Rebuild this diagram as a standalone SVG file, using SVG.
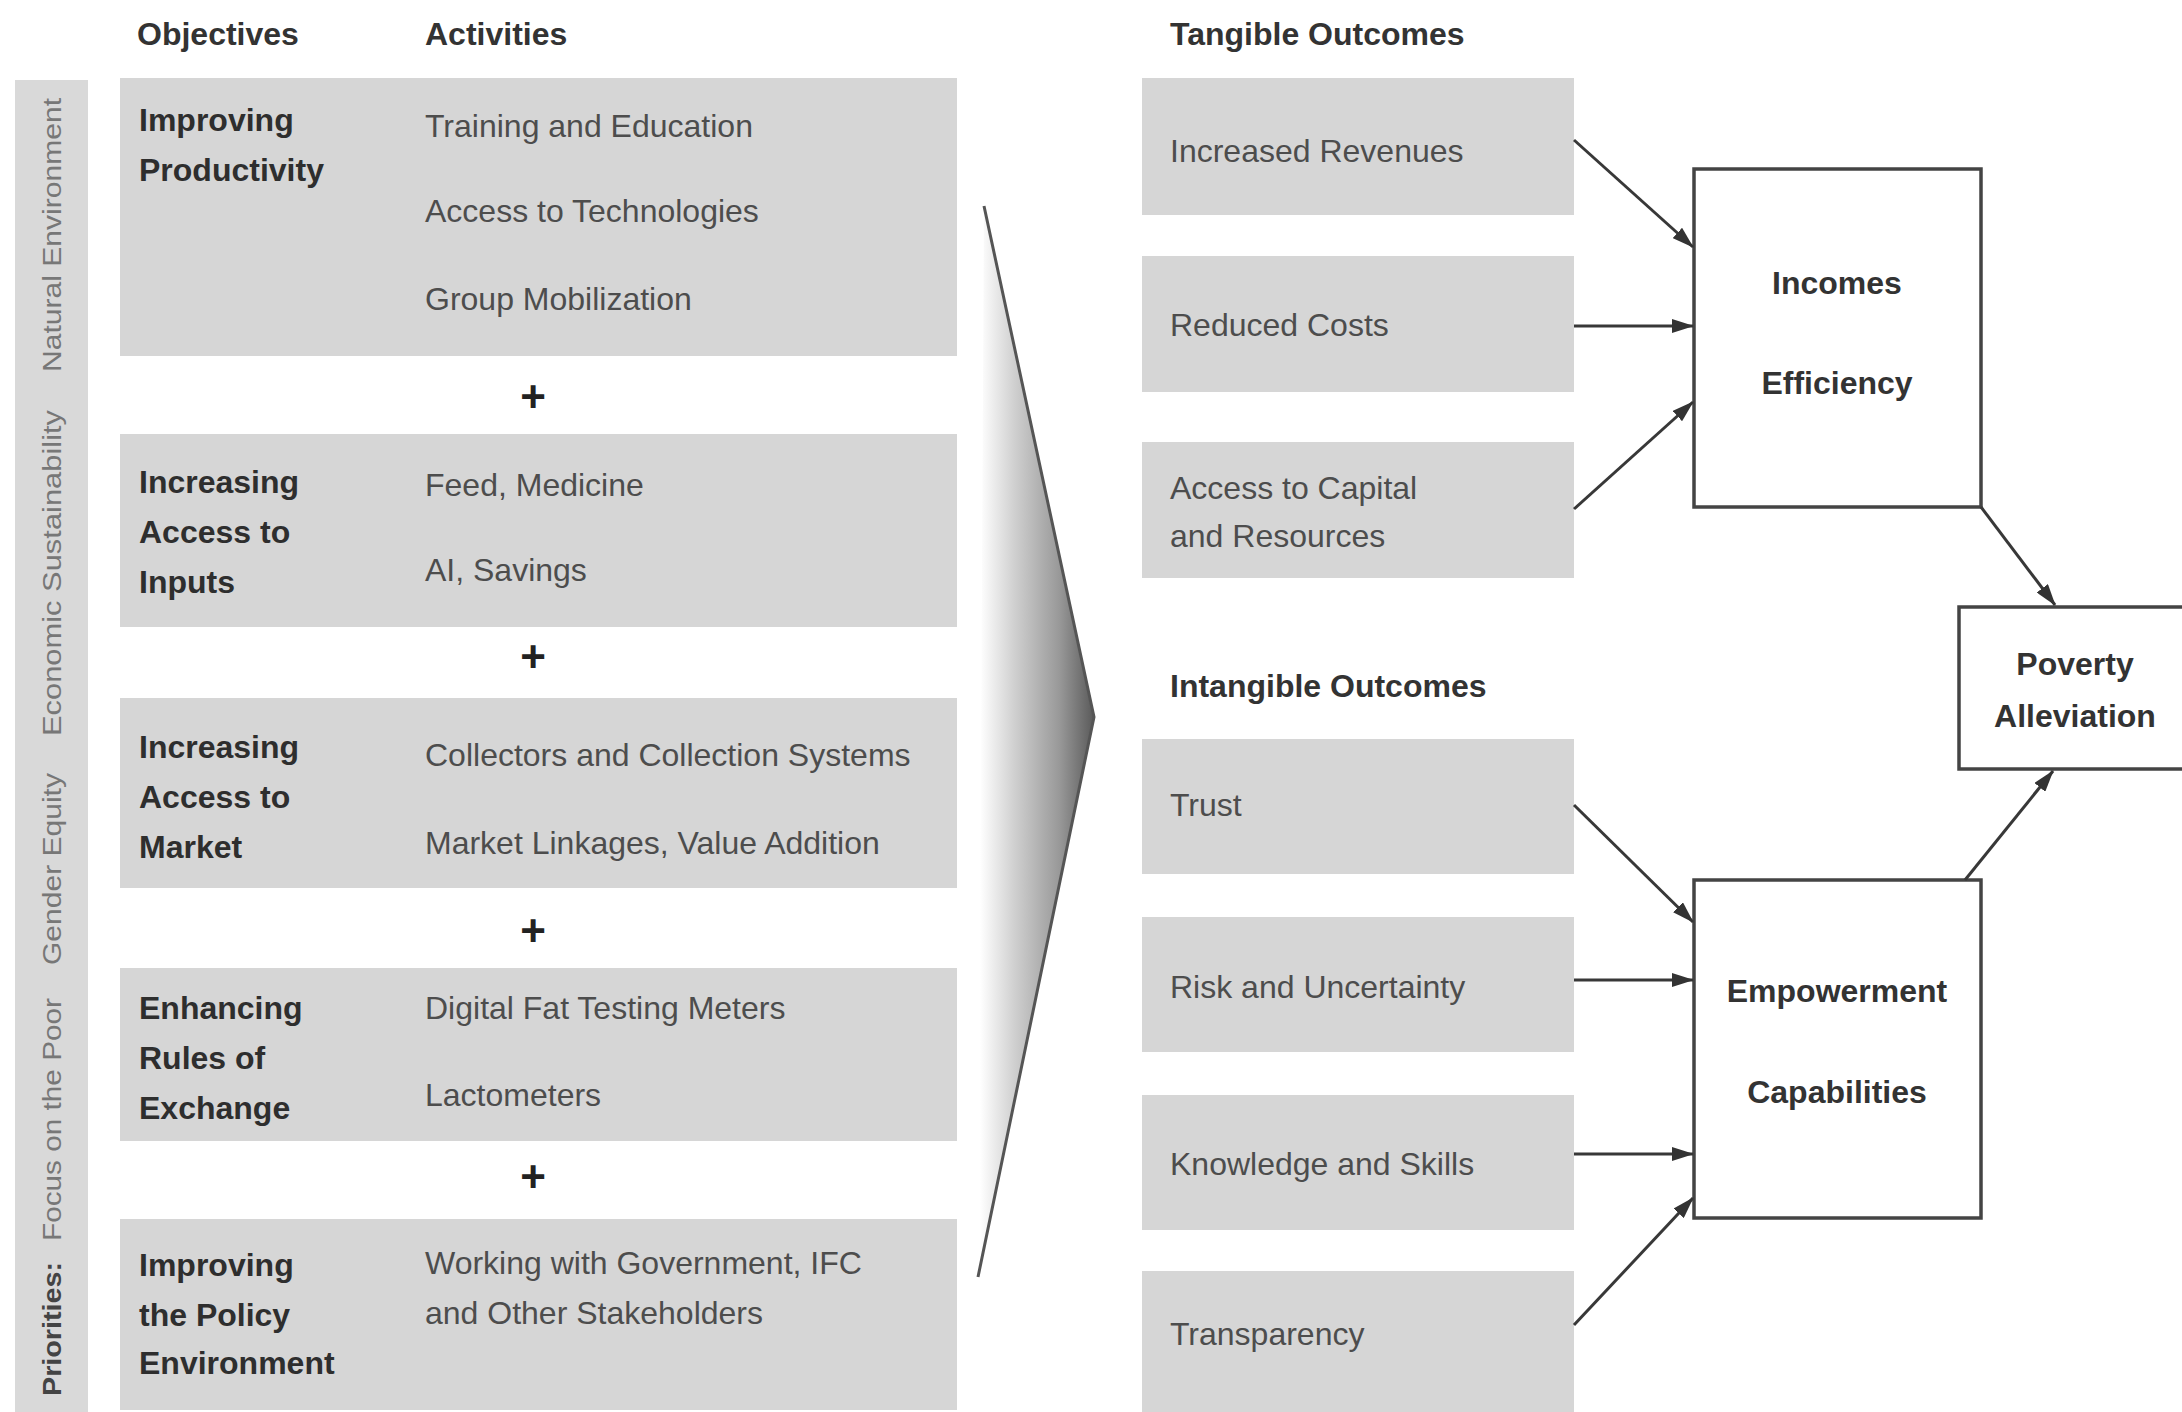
<svg xmlns="http://www.w3.org/2000/svg" width="2182" height="1412" viewBox="0 0 2182 1412">
<style>
text{font-family:"Liberation Sans",Arial,sans-serif;}
.hd{font-size:32px;font-weight:bold;fill:#333;}
.obj{font-size:32px;font-weight:bold;fill:#2e2e2e;}
.act{font-size:32px;fill:#4d4d4d;}
.box{fill:#d6d6d6;}
.wbox{fill:#fff;stroke:#444;stroke-width:3.5;}
.ctr{font-size:32px;font-weight:bold;fill:#333;text-anchor:middle;}
.plus{font-size:44px;font-weight:bold;fill:#222;text-anchor:middle;}
.vt{font-size:25px;fill:#777;}
.vtb{font-size:25px;fill:#444;font-weight:bold;}
.con{stroke:#383838;stroke-width:3;fill:none;marker-end:url(#arr);}
</style>
<defs>
<marker id="arr" markerWidth="22" markerHeight="14" refX="21" refY="7" orient="auto" markerUnits="userSpaceOnUse">
<path d="M0,0 L22,7 L0,14 z" fill="#333"/>
</marker>
<linearGradient id="chev" gradientUnits="userSpaceOnUse" x1="980" y1="0" x2="1094" y2="0">
<stop offset="0" stop-color="#ffffff"/>
<stop offset="0.3" stop-color="#d0d0d0"/>
<stop offset="0.7" stop-color="#989898"/>
<stop offset="1" stop-color="#5a5a5a"/>
</linearGradient>
</defs>
<rect width="2182" height="1412" fill="#fff"/>

<g id="priorities">
<rect x="15" y="80" width="73" height="1332" fill="#d9d9d9"/>
<text class="vtb" transform="translate(61,1396) rotate(-90)" textLength="134" lengthAdjust="spacingAndGlyphs">Priorities:</text>
<text class="vt" transform="translate(61,1241) rotate(-90)" textLength="243" lengthAdjust="spacingAndGlyphs">Focus on the Poor</text>
<text class="vt" transform="translate(61,965) rotate(-90)" textLength="192" lengthAdjust="spacingAndGlyphs">Gender Equity</text>
<text class="vt" transform="translate(61,736) rotate(-90)" textLength="326" lengthAdjust="spacingAndGlyphs">Economic Sustainability</text>
<text class="vt" transform="translate(61,372) rotate(-90)" textLength="274" lengthAdjust="spacingAndGlyphs">Natural Environment</text>
</g>

<g id="headers">
<text class="hd" x="137" y="45">Objectives</text>
<text class="hd" x="425" y="45">Activities</text>
<text class="hd" x="1170" y="45">Tangible Outcomes</text>
<text class="hd" x="1170" y="697">Intangible Outcomes</text>
</g>

<g id="obj1">
<rect class="box" x="120" y="78" width="837" height="278"/>
<text class="obj" x="139" y="131">Improving</text>
<text class="obj" x="139" y="181">Productivity</text>
<text class="act" x="425" y="137">Training and Education</text>
<text class="act" x="425" y="222">Access to Technologies</text>
<text class="act" x="425" y="310">Group Mobilization</text>
</g>
<text class="plus" x="533" y="412">+</text>
<g id="obj2">
<rect class="box" x="120" y="434" width="837" height="193"/>
<text class="obj" x="139" y="493">Increasing</text>
<text class="obj" x="139" y="543">Access to</text>
<text class="obj" x="139" y="593">Inputs</text>
<text class="act" x="425" y="496">Feed, Medicine</text>
<text class="act" x="425" y="581">AI, Savings</text>
</g>
<text class="plus" x="533" y="672">+</text>
<g id="obj3">
<rect class="box" x="120" y="698" width="837" height="190"/>
<text class="obj" x="139" y="758">Increasing</text>
<text class="obj" x="139" y="808">Access to</text>
<text class="obj" x="139" y="858">Market</text>
<text class="act" x="425" y="766">Collectors and Collection Systems</text>
<text class="act" x="425" y="854">Market Linkages, Value Addition</text>
</g>
<text class="plus" x="533" y="946">+</text>
<g id="obj4">
<rect class="box" x="120" y="968" width="837" height="173"/>
<text class="obj" x="139" y="1019">Enhancing</text>
<text class="obj" x="139" y="1069">Rules of</text>
<text class="obj" x="139" y="1119">Exchange</text>
<text class="act" x="425" y="1019">Digital Fat Testing Meters</text>
<text class="act" x="425" y="1106">Lactometers</text>
</g>
<text class="plus" x="533" y="1192">+</text>
<g id="obj5">
<rect class="box" x="120" y="1219" width="837" height="191"/>
<text class="obj" x="139" y="1276">Improving</text>
<text class="obj" x="139" y="1326">the Policy</text>
<text class="obj" x="139" y="1374">Environment</text>
<text class="act" x="425" y="1274">Working with Government, IFC</text>
<text class="act" x="425" y="1324">and Other Stakeholders</text>
</g>

<g id="chevron">
<polygon points="984,206 1094,717 978,1277" fill="url(#chev)"/>
<polyline points="984,206 1094,717 978,1277" fill="none" stroke="#555" stroke-width="3"/>
</g>

<g id="revenues"><rect class="box" x="1142" y="78" width="432" height="137"/><text class="act" x="1170" y="162">Increased Revenues</text></g>
<g id="costs"><rect class="box" x="1142" y="256" width="432" height="136"/><text class="act" x="1170" y="336">Reduced Costs</text></g>
<g id="capital"><rect class="box" x="1142" y="442" width="432" height="136"/><text class="act" x="1170" y="499">Access to Capital</text><text class="act" x="1170" y="547">and Resources</text></g>

<g id="trust"><rect class="box" x="1142" y="739" width="432" height="135"/><text class="act" x="1170" y="816">Trust</text></g>
<g id="risk"><rect class="box" x="1142" y="917" width="432" height="135"/><text class="act" x="1170" y="998">Risk and Uncertainty</text></g>
<g id="knowledge"><rect class="box" x="1142" y="1095" width="432" height="135"/><text class="act" x="1170" y="1175">Knowledge and Skills</text></g>
<g id="transparency"><rect class="box" x="1142" y="1271" width="432" height="141"/><text class="act" x="1170" y="1345">Transparency</text></g>

<g id="incomes"><rect class="wbox" x="1694" y="169" width="287" height="338"/><text class="ctr" x="1837" y="294">Incomes</text><text class="ctr" x="1837" y="394">Efficiency</text></g>
<g id="empowerment"><rect class="wbox" x="1694" y="880" width="287" height="338"/><text class="ctr" x="1837" y="1002">Empowerment</text><text class="ctr" x="1837" y="1103">Capabilities</text></g>
<g id="poverty"><rect class="wbox" x="1959" y="607" width="240" height="162"/><text class="ctr" x="2075" y="675">Poverty</text><text class="ctr" x="2075" y="727">Alleviation</text></g>

<g id="connectors">
<line class="con" x1="1574" y1="140" x2="1693" y2="247"/>
<line class="con" x1="1574" y1="326" x2="1693" y2="326"/>
<line class="con" x1="1574" y1="509" x2="1693" y2="402"/>
<line class="con" x1="1981" y1="507" x2="2055" y2="605"/>
<line class="con" x1="1574" y1="805" x2="1693" y2="922"/>
<line class="con" x1="1574" y1="980" x2="1693" y2="980"/>
<line class="con" x1="1574" y1="1154" x2="1693" y2="1154"/>
<line class="con" x1="1574" y1="1325" x2="1693" y2="1198"/>
<line class="con" x1="1965" y1="880" x2="2053" y2="771"/>
</g>
</svg>
